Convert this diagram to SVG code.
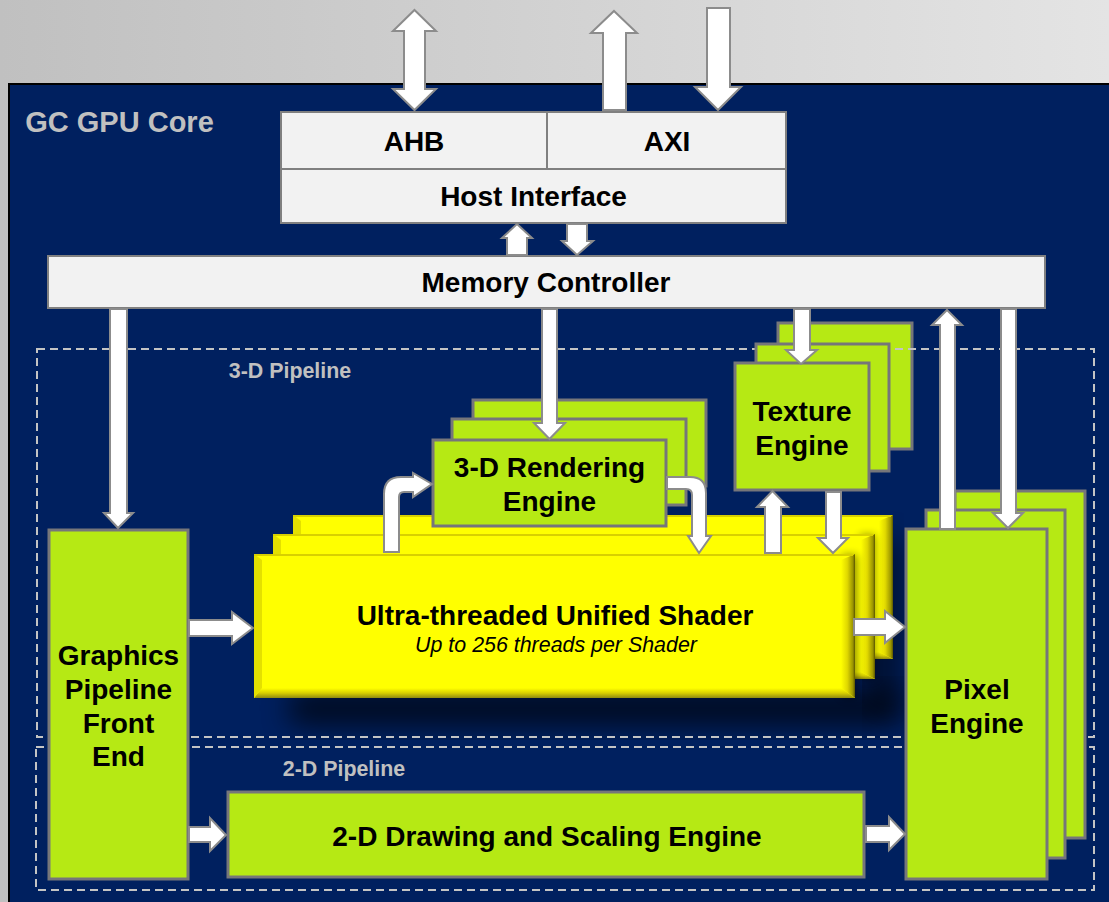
<svg xmlns="http://www.w3.org/2000/svg" width="1109" height="902" viewBox="0 0 1109 902">
<defs>
<linearGradient id="bg" x1="0" y1="0" x2="1" y2="0"><stop offset="0" stop-color="#c0c0c0"/><stop offset="1" stop-color="#e4e4e4"/></linearGradient>
<linearGradient id="edgeR" x1="0" y1="0" x2="1" y2="0"><stop offset="0" stop-color="#ffff00"/><stop offset="0.45" stop-color="#e0d800"/><stop offset="0.85" stop-color="#9a9400"/><stop offset="1" stop-color="#5a5600"/></linearGradient>
<linearGradient id="edgeB" x1="0" y1="0" x2="0" y2="1"><stop offset="0" stop-color="#ffff00"/><stop offset="0.5" stop-color="#d8d000"/><stop offset="1" stop-color="#8f8a10"/></linearGradient>
<filter id="blur" x="-20%" y="-50%" width="140%" height="200%"><feGaussianBlur stdDeviation="14"/></filter>
<filter id="soft" x="-50%" y="-20%" width="200%" height="140%"><feGaussianBlur stdDeviation="4"/></filter>
</defs>
<style>
text{font-family:"Liberation Sans",Arial,sans-serif;font-weight:bold;text-anchor:middle;fill:#000}
.t{font-size:28px}
.p{font-size:21.4px}
.g{fill:#c0c0c0}
.green{fill:#b6e914;stroke:#76767a;stroke-width:3}
.grey{fill:#f2f2f2;stroke:#808080;stroke-width:2}
.dash{fill:none;stroke:#c4c4c4;stroke-width:2;stroke-dasharray:8 5}
.a{fill:#fff;stroke:#8c8c8c;stroke-width:2;stroke-linejoin:miter}
.y{fill:#ffff00}
.yl{fill:none;stroke:#d8d000;stroke-width:2}
.er{fill:url(#edgeR)}
.eb{fill:url(#edgeB)}
.el{fill:#e4e000}
.sh{fill:#000;opacity:.45;filter:url(#soft)}
</style>
<rect width="1109" height="902" fill="url(#bg)"/>
<rect x="9" y="84" width="1102" height="820" fill="#00205f" stroke="#000" stroke-width="2"/>
<rect x="290" y="692" width="610" height="32" fill="#000" opacity="0.7" filter="url(#blur)"/>
<rect x="868" y="540" width="30" height="170" fill="#000" opacity="0.55" filter="url(#blur)"/>

<g id="label-core"><text x="119.500" y="132" class="g" style="font-size:29px">GC GPU Core</text></g>

<g id="texture-back-stack">
<rect class="green" x="778" y="323" width="134" height="126"/>
</g>
<g id="pipeline-3d"><rect class="dash" x="37" y="349" width="1057" height="388"/><text class="g p" x="290" y="378">3-D Pipeline</text></g>
<g id="pipeline-2d"><rect class="dash" x="36" y="747" width="1058" height="143"/><text class="g p" x="344" y="776">2-D Pipeline</text></g>

<g id="rendering-stack">
<rect class="green" x="473" y="400" width="233" height="86"/>
<rect class="green" x="452" y="419" width="234" height="86"/>
</g>

<g id="shader-stack">
<g>
<rect class="y" x="293" y="515" width="600" height="144"/>
<path class="er" d="M879,521L893,515V659L879,652Z"/>
<path class="eb" d="M301,652H879L893,659H293Z"/>
<path class="el" d="M293,515V659L301,652V521Z"/>
<path class="yl" d="M293,516H891"/>
</g>
<rect class="sh" x="860" y="535" width="15" height="144"/>
<g>
<rect class="y" x="273" y="534" width="602" height="145"/>
<path class="er" d="M861,540L875,534V679L861,672Z"/>
<path class="eb" d="M281,672H861L875,679H273Z"/>
<path class="el" d="M273,534V679L281,672V540Z"/>
<path class="yl" d="M273,535H873"/>
</g>
<rect class="sh" x="842" y="555" width="15" height="143"/>
</g>
<g id="shader">
<rect class="y" x="254" y="554" width="601" height="144"/>
<path class="er" d="M841,560L855,554V698L841,688Z"/>
<path class="eb" d="M262,688H841L855,698H254Z"/>
<path class="el" d="M254,554V698L262,688V560Z"/>
<path class="yl" d="M254,555H853"/>
<text class="t" x="555" y="625">Ultra-threaded Unified Shader</text>
<text x="556" y="652" font-size="21.400" style="font-weight:normal;font-style:italic">Up to 256 threads per Shader</text>
</g>

<g id="rendering-engine">
<rect class="green" x="433" y="440" width="233" height="86"/>
<text class="t" x="549.500" y="477">3-D Rendering</text>
<text class="t" x="549.500" y="511">Engine</text>
</g>

<g id="texture-engine">
<rect class="green" x="756" y="344" width="133" height="127"/>
<rect class="green" x="735" y="363" width="134" height="127"/>
<text class="t" x="802" y="421">Texture</text>
<text class="t" x="802" y="455">Engine</text>
</g>

<g id="pixel-engine">
<rect class="green" x="955" y="491" width="130" height="347"/>
<rect class="green" x="926" y="510" width="139" height="348"/>
<rect class="green" x="906" y="529" width="141" height="350"/>
<text class="t" x="977" y="699">Pixel</text>
<text class="t" x="977" y="733">Engine</text>
</g>

<g id="front-end">
<rect class="green" x="49" y="530" width="139" height="349"/>
<text class="t" x="118.500" y="665">Graphics</text>
<text class="t" x="118.500" y="699">Pipeline</text>
<text class="t" x="118.500" y="733">Front</text>
<text class="t" x="118.500" y="766">End</text>
</g>

<g id="drawing-engine">
<rect class="green" x="228" y="792" width="636" height="85"/>
<text class="t" x="547" y="846">2-D Drawing and Scaling Engine</text>
</g>

<g id="host-interface">
<rect class="grey" x="281" y="112" width="505" height="57"/>
<path d="M547,112V169" stroke="#808080" stroke-width="2"/>
<rect class="grey" x="281" y="169" width="505" height="54"/>
<text class="t" x="414" y="151">AHB</text>
<text class="t" x="667" y="151">AXI</text>
<text class="t" x="533.500" y="206">Host Interface</text>
</g>

<g id="memory-controller">
<rect class="grey" x="48" y="256" width="997" height="52"/>
<text class="t" x="546" y="292">Memory Controller</text>
</g>

<g id="connectors">
<path class="a" d="M414.500,10L436,31H425V89H436L414.500,110L393,89H404V31H393Z"/>
<path class="a" d="M614,11L637,33H626V110H603V33H591Z"/>
<path class="a" d="M707,8H730V87H741L718,110L695,87H707Z"/>
<path class="a" d="M517,224L532,238H527V255H507V238H502Z"/>
<path class="a" d="M567,224H587V241H593L577,255L562,241H567Z"/>
<path class="a" d="M110,309H127V513H133L118,528L104,513H110Z"/>
<path class="a" d="M542,309H557V423H565L549.500,439L534,423H542Z"/>
<path class="a" d="M794,309H810V350H817L801,364L786,350H794Z"/>
<path class="a" d="M947,310L962,325H955V529H940V325H932Z"/>
<path class="a" d="M1001,309H1016V513H1023L1008,528L993,513H1001Z"/>
<path class="a" d="M772.500,491L788,507H781V553H765V507H757Z"/>
<path class="a" d="M826,492H841V538H848L833,553L818,538H826Z"/>
<path class="a" d="M384,552V494Q384,477 401,477H413V473L432,484L413,497V492H404Q399,492 399,497V552Z"/>
<path class="a" d="M667,477H690Q706,477 706,493V536H711L699,553L688,536H692V495Q692,489 686,489H667Z"/>
<path class="a" d="M189,620H232V612L253,628L232,644V636H189Z"/>
<path class="a" d="M854,619H885V611L905,627L885,643V635H854Z"/>
<path class="a" d="M189,827H210V818L226,835L210,851V842H189Z"/>
<path class="a" d="M866,826H889V817L905,834L889,850V842H866Z"/>
</g>
</svg>
